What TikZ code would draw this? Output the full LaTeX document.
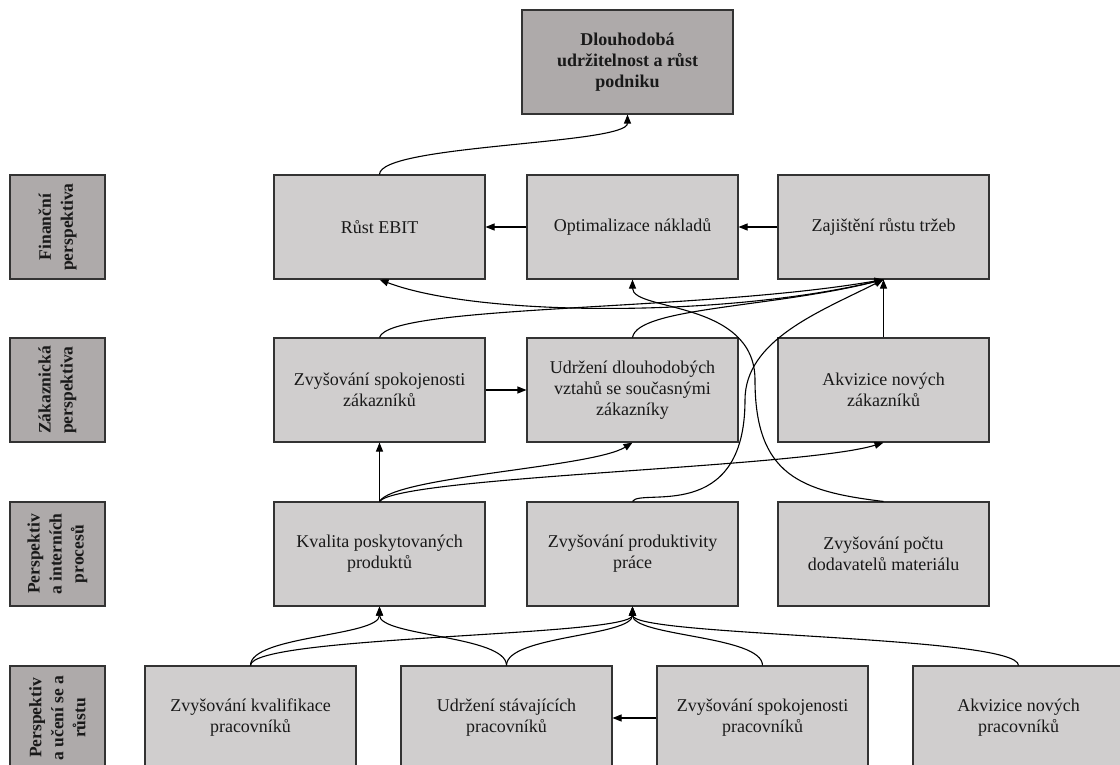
\documentclass[tikz,border=0pt]{standalone}
\usepackage{fontspec}
\setmainfont{Liberation Serif}
\usetikzlibrary{arrows.meta}

\definecolor{boxfill}{HTML}{D0CECE}
\definecolor{headfill}{HTML}{AEAAAA}

\begin{document}
\begin{tikzpicture}[x=1pt, y=1pt,
    box/.style={draw=black!80, line width=1.1pt, fill=boxfill, minimum width=211pt, minimum height=104pt,
        align=center, text=black!90, font=\fontsize{18}{21}\selectfont},
    goal/.style={box, fill=headfill, font=\fontsize{18}{21}\selectfont\bfseries},
    persp/.style={box, fill=headfill, rotate=90, minimum width=104pt, minimum height=95pt,
        font=\fontsize{17.5}{22}\selectfont\bfseries},
    arr/.style={-{Triangle[length=9pt,width=7pt]}, line width=1.1pt},
    scurve/.style={out=90, in=-90, distance=30pt}]
    \useasboundingbox (0,0) rectangle (1120,-765);

    % Cíl
    \node[goal] (cil) at (627.5,-62) {Dlouhodobá\\udržitelnost a růst\\podniku};

    % Perspektivy vlevo
    \node[persp] (lfin) at (57.5,-227) {Finanční\\perspektiva};
    \node[persp] (lzak) at (57.5,-390) {Zákaznická\\perspektiva};
    \node[persp] (lint) at (57.5,-554) {Perspektiv\\a interních\\procesů};
    \node[persp] (luc) at (57.5,-718) {Perspektiv\\a učení se a\\růstu};

    % Finanční perspektiva
    \node[box] (ebit) at (379.5,-227) {Růst EBIT};
    \node[box] (naklady) at (632.5,-227) {Optimalizace nákladů};
    \node[box] (trzby) at (883.5,-227) {Zajištění růstu tržeb};

    % Zákaznická perspektiva
    \node[box] (spokoj) at (379.5,-390) {Zvyšování spokojenosti\\zákazníků};
    \node[box] (vztahy) at (632.5,-390) {Udržení dlouhodobých\\vztahů se současnými\\zákazníky};
    \node[box] (akvzak) at (883.5,-390) {Akvizice nových\\zákazníků};

    % Interní procesy
    \node[box] (kvalita) at (379.5,-554) {Kvalita poskytovaných\\produktů};
    \node[box] (produkt) at (632.5,-554) {Zvyšování produktivity\\práce};
    \node[box] (dodav) at (883.5,-554) {Zvyšování počtu\\dodavatelů materiálu};

    % Učení se a růst
    \node[box] (kvalif) at (250.5,-718) {Zvyšování kvalifikace\\pracovníků};
    \node[box] (udrz) at (506.5,-718) {Udržení stávajících\\pracovníků};
    \node[box] (spokprac) at (762.5,-718) {Zvyšování spokojenosti\\pracovníků};
    \node[box] (akvprac) at (1018.5,-718) {Akvizice nových\\pracovníků};

    \coordinate (mez1) at (745,-400);
    \coordinate (mez2) at (755,-380);

    % Vazby finanční perspektivy
    \draw[arr] (ebit.north) to[scurve] (cil.south);
    \draw[arr] (naklady.west) -- (ebit.east);
    \draw[arr] (trzby.west) -- (naklady.east);
    \draw[arr] (trzby.south) .. controls +(-150,-38) and +(100,-38) .. (ebit.south);

    % Vazby zákaznické perspektivy
    \draw[arr] (spokoj.east) -- (vztahy.west);
    \draw[arr] (spokoj.north) .. controls +(10,33) and +(-183,-32) .. (trzby.south);
    \draw[arr] (vztahy.north) .. controls +(5,30) and +(-110,-28) .. (trzby.south);
    \draw[arr] (akvzak.north) -- (trzby.south);

    % Vazby interních procesů
    \draw[arr] (kvalita.north) -- (spokoj.south);
    \draw[arr] (kvalita.north) .. controls +(15,25) and +(-40,-25) .. (vztahy.south);
    \draw[arr] (kvalita.north) .. controls +(20,25) and +(-80,-25) .. (akvzak.south);
    \draw[arr] (produkt.north) .. controls +(7.5,14) and +(0,-125) .. (mez1)
        .. controls +(0,60) and +(-63.5,-32) .. (trzby.south);
    \draw[arr] (dodav.north) .. controls +(-83.5,10) and +(0,-95) .. (mez2)
        .. controls +(0,80) and +(0,-32) .. (naklady.south);

    % Vazby učení se a růstu
    \foreach \od/\do in {kvalif/kvalita, kvalif/produkt, udrz/kvalita, udrz/produkt, spokprac/produkt, akvprac/produkt}
        \draw[arr] (\od.north) to[scurve] (\do.south);
    \draw[arr] (spokprac.west) -- (udrz.east);
\end{tikzpicture}
\end{document}
